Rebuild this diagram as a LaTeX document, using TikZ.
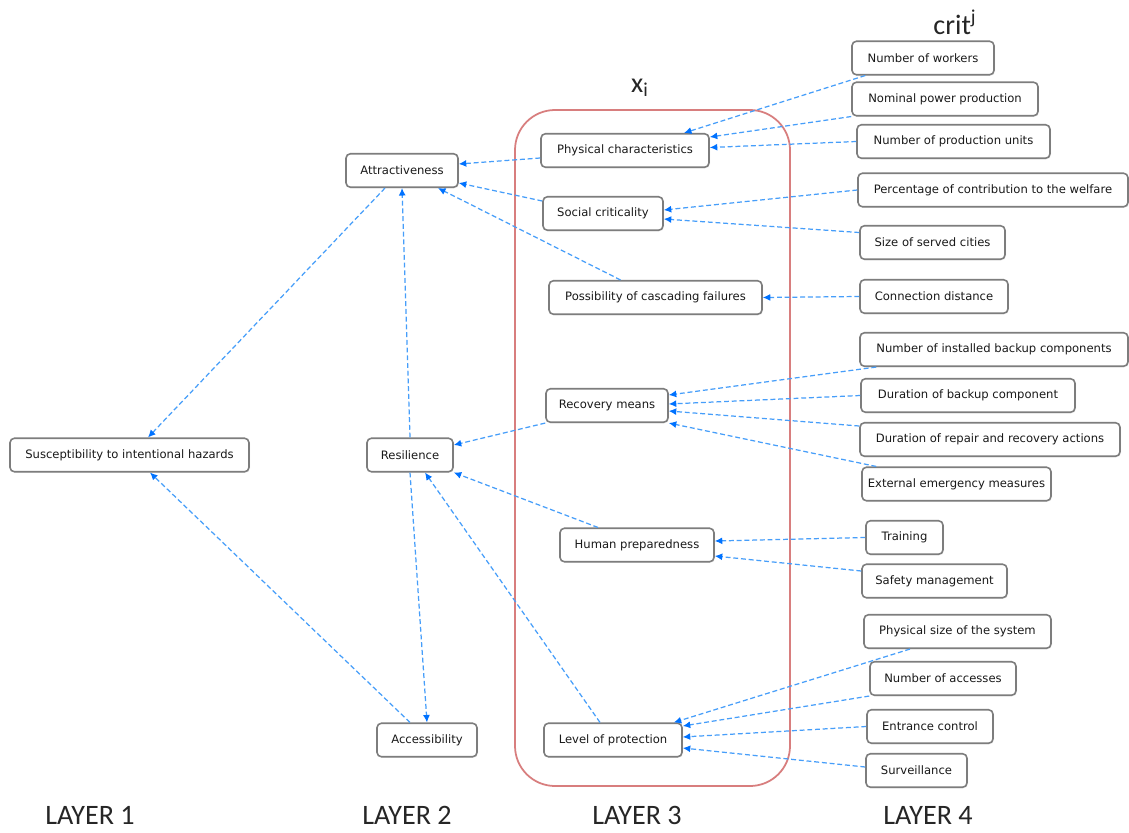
\documentclass[tikz,border=0pt]{standalone}
\usepackage{fontspec}
\setmainfont{DejaVu Sans}
\newfontfamily\layerfont{Carlito}
\usepackage{xcolor}
\usepackage{tikz}
\usetikzlibrary{arrows.meta, shadows}
\definecolor{linkblue}{RGB}{70,158,250}
\definecolor{tipblue}{RGB}{0,114,255}
\definecolor{boxgray}{RGB}{125,125,125}
\definecolor{layerred}{RGB}{216,126,126}
\tikzset{
    box/.style={rectangle, rounded corners=2.5pt, minimum height=0.67cm, inner sep=2pt,
                text centered, draw=boxgray, line width=0.9pt, fill=white, text=black!90,
                drop shadow={opacity=0.12, shadow xshift=0.6pt, shadow yshift=-0.6pt},
                font=\fontsize{6.6}{8}\selectfont},
    link/.style={line width=0.7pt, linkblue, dash pattern=on 2.8pt off 1.6pt,
                 -{Latex[length=1.5mm, width=1.4mm, color=tipblue]}},
    layerlabel/.style={font=\layerfont\fontsize{16}{18}\selectfont, text=black!85}
}
\begin{document}
\begin{tikzpicture}[x=0.02cm, y=-0.02cm]
    \useasboundingbox[fill=white] (0,0) rectangle (1129,832);

    % Layer 3 frame
    \draw[layerred, line width=1pt, rounded corners=0.8cm] (515,110) rectangle (790,786);
    \node[layerlabel] (xi) at (640,88) {x\textsubscript{i}};
    \node[layerlabel] (crit) at (955,22) {crit\textsuperscript{j}};

    % Layer 1
    \node[box, minimum width=4.78cm] (susc) at (129.5,455) {Susceptibility to intentional hazards};

    % Layer 2
    \node[box, minimum width=2.24cm] (attr) at (402,170.5) {Attractiveness};
    \node[box, minimum width=1.72cm] (resil) at (410,455) {Resilience};
    \node[box, minimum width=2.0cm] (access) at (427,740) {Accessibility};

    % Layer 3
    \node[box, minimum width=3.36cm] (phys) at (625,150.5) {Physical characteristics};
    \node[box, minimum width=2.4cm] (social) at (603,213.5) {Social criticality};
    \node[box, minimum width=4.26cm] (possib) at (655.5,297.5) {Possibility of cascading failures};
    \node[box, minimum width=2.44cm] (recov) at (607,405.5) {Recovery means};
    \node[box, minimum width=3.08cm] (human) at (637,545) {Human preparedness};
    \node[box, minimum width=2.76cm] (level) at (613,740) {Level of protection};

    % Layer 4
    \node[box, minimum width=2.84cm] (workers) at (923,58) {Number of workers};
    \node[box, minimum width=3.72cm] (nominal) at (945,99) {Nominal power production};
    \node[box, minimum width=3.86cm] (units) at (953.5,141.5) {Number of production units};
    \node[box, minimum width=5.4cm] (welfare) at (993,190) {Percentage of contribution to the welfare};
    \node[box, minimum width=2.9cm] (cities) at (932.5,242.5) {Size of served cities};
    \node[box, minimum width=2.96cm] (distance) at (934,296.5) {Connection distance};
    \node[box, minimum width=5.36cm] (backupn) at (994,349.5) {Number of installed backup components};
    \node[box, minimum width=4.28cm] (durb) at (968,395.5) {Duration of backup component};
    \node[box, minimum width=5.2cm] (repair) at (990,439.5) {Duration of repair and recovery actions};
    \node[box, minimum width=3.78cm] (extern) at (956.5,484) {External emergency measures};
    \node[box, minimum width=1.54cm] (training) at (904.5,537.5) {Training};
    \node[box, minimum width=2.9cm] (safety) at (934.5,581) {Safety management};
    \node[box, minimum width=3.74cm] (physz) at (957.5,631.5) {Physical size of the system};
    \node[box, minimum width=2.92cm] (accessn) at (943,678.5) {Number of accesses};
    \node[box, minimum width=2.52cm] (entrance) at (930,726.5) {Entrance control};
    \node[box, minimum width=2.02cm] (surv) at (916.5,770.5) {Surveillance};

    % Layer 4 -> layer 3
    \draw[link] ([xshift=0.28cm]workers.south west) -- ([xshift=1.18cm]phys.north);
    \draw[link] (nominal.south west) -- ([yshift=0.27cm]phys.east);
    \draw[link] (units.west) -- ([yshift=0.06cm]phys.east);
    \draw[link] (welfare.west) -- ([yshift=0.07cm]social.east);
    \draw[link] ([yshift=0.2cm]cities.west) -- ([yshift=-0.11cm]social.east);
    \draw[link] (distance.west) -- (possib.east);
    \draw[link] ([xshift=0.34cm]backupn.south west) -- ([yshift=0.21cm]recov.east);
    \draw[link] (durb.west) -- ([yshift=0.03cm]recov.east);
    \draw[link] ([yshift=0.27cm]repair.west) -- ([yshift=-0.11cm]recov.east);
    \draw[link] ([xshift=0.3cm]extern.north west) -- (recov.south east);
    \draw[link] (training.west) -- ([yshift=0.08cm]human.east);
    \draw[link] ([yshift=0.2cm]safety.west) -- ([yshift=-0.22cm]human.east);
    \draw[link] ([xshift=-0.95cm]physz.south) -- ([xshift=-0.18cm]level.north east);
    \draw[link] (accessn.south west) -- ([yshift=0.28cm]level.east);
    \draw[link] (entrance.west) -- ([yshift=0.06cm]level.east);
    \draw[link] ([yshift=0.07cm]surv.west) -- ([yshift=-0.16cm]level.east);

    % Layer 3 -> layer 2
    \draw[link] ([yshift=-0.15cm]phys.west) -- ([yshift=0.13cm]attr.east);
    \draw[link] ([yshift=0.25cm]social.west) -- ([yshift=-0.25cm]attr.east);
    \draw[link] ([xshift=-0.7cm]possib.north) -- ([xshift=0.72cm]attr.south);
    \draw[link] (recov.south west) -- ([yshift=0.2cm]resil.east);
    \draw[link] ([xshift=-0.78cm]human.north) -- (resil.south east);
    \draw[link] ([xshift=-0.26cm]level.north) -- ([xshift=0.3cm]resil.south);

    % Layer 2
    \draw[link] (resil.north) -- (attr.south);
    \draw[link] (resil.south) -- (access.north);

    % Layer 2 -> layer 1
    \draw[link] ([xshift=-0.34cm]attr.south) -- ([xshift=0.37cm]susc.north);
    \draw[link] ([xshift=-0.34cm]access.north) -- ([xshift=0.41cm]susc.south);

    % Layer captions
    \node[layerlabel] (lay1) at (90,815) {LAYER 1};
    \node[layerlabel] (lay2) at (407,815) {LAYER 2};
    \node[layerlabel] (lay3) at (637,815) {LAYER 3};
    \node[layerlabel] (lay4) at (928,815) {LAYER 4};
\end{tikzpicture}
\end{document}
